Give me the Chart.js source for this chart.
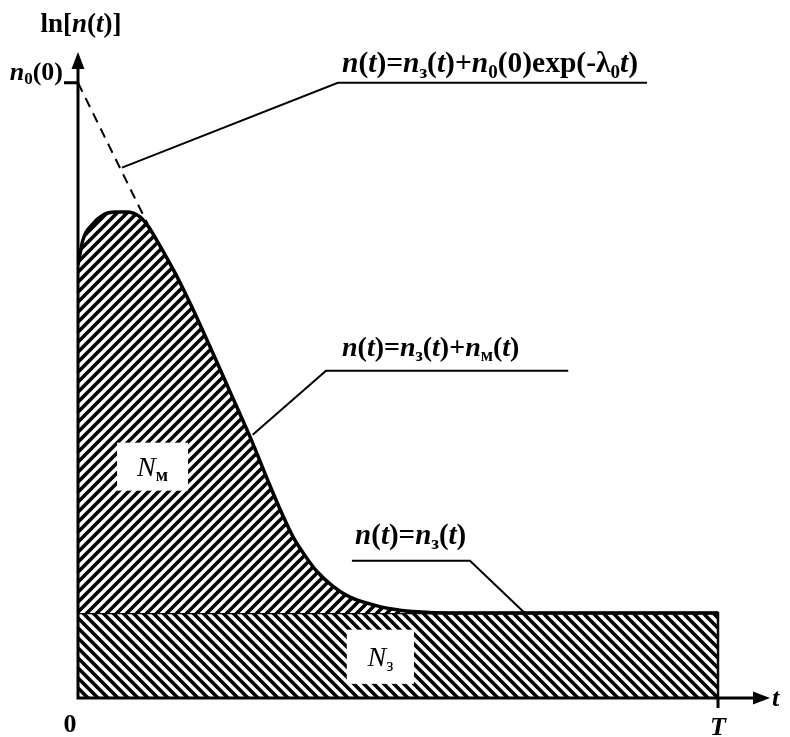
<!DOCTYPE html>
<html lang="ru">
<head>
<meta charset="UTF-8">
<title>ln[n(t)]</title>
<script src="https://cdn.jsdelivr.net/npm/chart.js"></script>
<style>
  body { margin: 0; background: #fff; }
  canvas { display: block; }
</style>
</head>
<body>
<canvas id="myChart" width="790" height="737"></canvas>
<script>
// время t в долях шкалы до T, по вертикали ln n(t)
const T = 10;
const n0 = 10;      // ln n0(0)
const n3 = 1.38;    // фон n3(t)

const curveT  = [0, 0.078, 0.219, 0.391, 0.578, 0.766, 0.969, 1.094, 1.281, 1.516, 1.75, 1.906, 2.14, 2.375, 2.69, 3.0, 3.19, 3.36, 3.55, 3.73, 3.98, 4.25, 4.56, 4.875, 5.3, 5.81, 10];
const curveLn = [7.04, 7.45, 7.69, 7.85, 7.90, 7.90, 7.82, 7.67, 7.35, 6.91, 6.42, 6.07, 5.53, 4.98, 4.24, 3.45, 2.99, 2.62, 2.31, 2.06, 1.82, 1.64, 1.53, 1.45, 1.40, 1.38, 1.38];

// экспонента n0(0)exp(-λ0 t), пунктир
const expT  = [0, 1.09];
const expLn = [n0, 7.7];

// фоновая область N3
const bgT  = [0, T, T];
const bgLn = [n3, n3, 0];

// подписи: [текст, флаги]  i - курсив, s - индекс, n - нежирный
const yTitle = [['ln[', ''], ['n', 'i'], ['(', ''], ['t', 'i'], [')]', '']];
const xTitle = [['t', 'i']];
const xTicks = [0, T];
const xTickLabels = [[['0', '']], [['T', 'i']]];
const yTicks = [n0];
const yTickLabels = [[['n', 'i'], ['0', 's'], ['(0)', '']]];

const formula1 = [['n','i'],['(',''],['t','i'],[')=',''],['n','i'],['з','s'],['(',''],['t','i'],[')+',''],['n','i'],['0','s'],['(0)exp(-λ',''],['0','s'],['t','i'],[')','']];
const formula2 = [['n','i'],['(',''],['t','i'],[')=',''],['n','i'],['з','s'],['(',''],['t','i'],[')+',''],['n','i'],['м','s'],['(',''],['t','i'],[')','']];
const formula3 = [['n','i'],['(',''],['t','i'],[')=',''],['n','i'],['з','s'],['(',''],['t','i'],[')','']];

const areaM = [['N','in'],['м','s']];
const area3 = [['N','in'],['з','sn']];

const FONT = '"Liberation Serif", "Times New Roman", serif';

function hatch(dir) {
  const c = document.createElement('canvas');
  c.width = c.height = 10;
  const g = c.getContext('2d');
  g.fillStyle = '#fff';
  g.fillRect(0, 0, 10, 10);
  g.strokeStyle = '#000';
  g.lineWidth = 3.6;
  g.beginPath();
  for (let k = -10; k <= 10; k += 10) {
    if (dir > 0) { g.moveTo(k - 5, 15); g.lineTo(k + 15, -5); }
    else { g.moveTo(k - 5, -5); g.lineTo(k + 15, 15); }
  }
  g.stroke();
  return g.createPattern(c, 'repeat');
}

function segFont(f, size) {
  const sub = f.includes('s');
  return (f.includes('i') ? 'italic ' : '') + (f.includes('n') ? 'normal ' : 'bold ') +
    (sub ? Math.round(size * 0.66) : size) + 'px ' + FONT;
}

function richWidth(ctx, segs, size) {
  let w = 0;
  segs.forEach(([s, f]) => { ctx.font = segFont(f, size); w += ctx.measureText(s).width; });
  return w;
}

function drawRich(ctx, segs, x, y, size, align) {
  const w = richWidth(ctx, segs, size);
  let cx = align === 'center' ? x - w / 2 : align === 'right' ? x - w : x;
  ctx.textBaseline = 'alphabetic';
  ctx.textAlign = 'left';
  ctx.fillStyle = '#000';
  segs.forEach(([s, f]) => {
    ctx.font = segFont(f, size);
    ctx.fillText(s, cx, y + (f.includes('s') ? size * 0.18 : 0));
    cx += ctx.measureText(s).width;
  });
}

// выноски: точки ломаной, начало текста над полкой, кегль
const callouts = [
  { pts: [[0.6875, 8.62], [4.06, n0], [8.89, n0]], text: formula1, at: [4.125, 10.17], size: 29.5 },
  { pts: [[2.73, 4.28], [3.875, 5.32], [7.66, 5.32]], text: formula2, at: [4.125, 5.56], size: 28 },
  { pts: [[4.28, 2.23], [6.125, 2.23], [6.98, n3]], text: formula3, at: [4.33, 2.5], size: 29 }
];

const areas = [
  { box: [0.61, 1.72, 4.15, 3.37], text: areaM },
  { box: [4.2, 5.25, 1.11, 0.23], text: area3 }
];

const deco = {
  id: 'deco',
  afterDatasetsDraw(chart) {
    const { ctx, chartArea, scales: { x, y } } = chart;
    const px = v => x.getPixelForValue(v);
    const py = v => y.getPixelForValue(v);
    const x0 = px(0), y0 = py(0);
    ctx.save();

    areas.forEach(a => {
      const l = px(a.box[0]), r = px(a.box[1]), t = py(a.box[2]), b = py(a.box[3]);
      ctx.fillStyle = '#fff';
      ctx.fillRect(l, t, r - l, b - t);
      drawRich(ctx, a.text, (l + r) / 2, (t + b) / 2 + 9, 28, 'center');
    });

    ctx.strokeStyle = '#000';
    ctx.lineWidth = 2;
    callouts.forEach(c => {
      ctx.beginPath();
      c.pts.forEach(([a, b], i) => i ? ctx.lineTo(px(a), py(b)) : ctx.moveTo(px(a), py(b)));
      ctx.stroke();
      drawRich(ctx, c.text, px(c.at[0]), py(c.at[1]), c.size, 'left');
    });

    // оси со стрелками
    ctx.lineWidth = 3;
    ctx.beginPath();
    ctx.moveTo(x0, y0 + 1.5);
    ctx.lineTo(x0, chartArea.top + 14);
    ctx.moveTo(x0 - 1.5, y0);
    ctx.lineTo(chartArea.right - 14, y0);
    ctx.stroke();
    ctx.fillStyle = '#000';
    ctx.beginPath();
    ctx.moveTo(x0, chartArea.top);
    ctx.lineTo(x0 - 6.5, chartArea.top + 17);
    ctx.lineTo(x0 + 6.5, chartArea.top + 17);
    ctx.closePath();
    ctx.moveTo(chartArea.right, y0);
    ctx.lineTo(chartArea.right - 17, y0 - 6.5);
    ctx.lineTo(chartArea.right - 17, y0 + 6.5);
    ctx.closePath();
    ctx.fill();

    // засечки
    ctx.beginPath();
    yTicks.forEach(v => { ctx.moveTo(x0 - 14, py(v)); ctx.lineTo(x0, py(v)); });
    xTicks.forEach(v => { if (v) { ctx.moveTo(px(v), y0); ctx.lineTo(px(v), y0 + 10); } });
    ctx.stroke();

    drawRich(ctx, yTickLabels[0], x0 - 15, py(yTicks[0]) - 3, 26, 'right');
    drawRich(ctx, xTickLabels[0], x0 - 8, y0 + 34, 26, 'center');
    drawRich(ctx, xTickLabels[1], px(xTicks[1]), y0 + 37, 26, 'center');
    drawRich(ctx, xTitle, chartArea.right + 2, y0 + 8, 26, 'left');
    drawRich(ctx, yTitle, x0 + 3, chartArea.top - 20, 27, 'center');

    ctx.restore();
  }
};

const pts = (xs, ys) => xs.map((v, i) => ({ x: v, y: ys[i] }));

new Chart(document.getElementById('myChart'), {
  type: 'line',
  data: {
    datasets: [
      {
        data: pts(curveT, curveLn),
        borderColor: '#000',
        borderWidth: 3.5,
        backgroundColor: hatch(1),
        fill: { value: n3 },
        cubicInterpolationMode: 'monotone',
        pointRadius: 0
      },
      {
        data: pts(bgT, bgLn),
        borderColor: '#000',
        borderWidth: 2.5,
        backgroundColor: hatch(-1),
        fill: 'origin',
        pointRadius: 0
      },
      {
        data: pts(expT, expLn),
        borderColor: '#000',
        borderWidth: 2,
        borderDash: [10, 7],
        fill: false,
        pointRadius: 0
      }
    ]
  },
  options: {
    responsive: false,
    devicePixelRatio: 1,
    animation: false,
    layout: { padding: { left: 78, right: 20, top: 52, bottom: 39 } },
    plugins: { legend: { display: false }, tooltip: { enabled: false } },
    scales: {
      x: { type: 'linear', min: 0, max: 10.8125, display: false },
      y: { type: 'linear', min: 0, max: 10.5, display: false }
    }
  },
  plugins: [deco]
});
</script>
</body>
</html>
